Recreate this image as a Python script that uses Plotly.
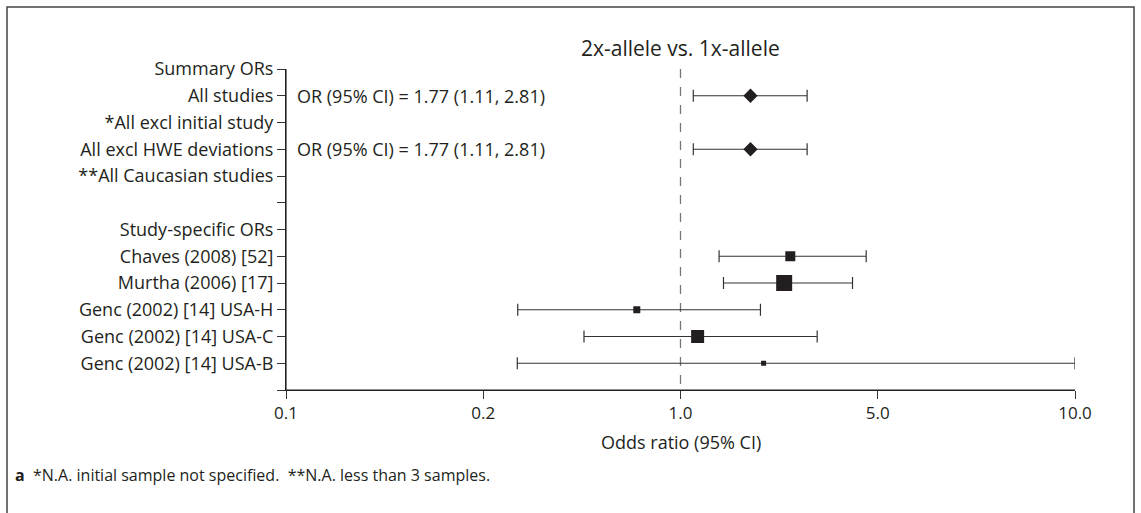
import numpy as np
import plotly.graph_objects as go

# ---- data ----
row_labels = ["Summary ORs", "All studies", "*All excl initial study", "All excl HWE deviations",
              "**All Caucasian studies", "", "Study-specific ORs", "Chaves (2008) [52]",
              "Murtha (2006) [17]", "Genc (2002) [14] USA-H", "Genc (2002) [14] USA-C",
              "Genc (2002) [14] USA-B", ""]

summary_rows = [1, 3]
summary_or = [1.77, 1.77]
summary_lo = [1.11, 1.11]
summary_hi = [2.81, 2.81]

study_rows = [7, 8, 9, 10, 11]
study_or = [2.45, 2.33, 0.70, 1.15, 1.97]
study_lo = [1.37, 1.42, 0.265, 0.455, 0.264]
study_hi = [4.55, 4.07, 1.92, 3.05, 10.0]
study_weight = [10, 16, 7, 13, 5]   # marker size (study weight)

tick_values = [0.1, 0.2, 1.0, 5.0, 10.0]
tick_text = ["0.1", "0.2", "1.0", "5.0", "10.0"]

title_text = "2x-allele vs. 1x-allele"
xlabel = "Odds ratio (95% CI)"
footnote = "<b>a</b>  *N.A. initial sample not specified.  **N.A. less than 3 samples."

# ---- axis scale: piecewise log scale with evenly spaced ticks ----
tick_pos = np.arange(len(tick_values))
def tx(v):
    return np.interp(np.log10(np.asarray(v, dtype=float)), np.log10(tick_values), tick_pos)

FONT = "Open Sans"
TXT = "#231f20"
W, H = 1141, 513
ml, mr, mt, mb = 286, 66, 69, 123
pw, ph = W - ml - mr, H - mt - mb

def px_x(p):
    return (p - ml) / pw
def px_y(p):
    return 1 - (p - mt) / ph

fig = go.Figure()

line_col = "#333333"

s_x = tx(summary_or)
fig.add_trace(go.Scatter(
    x=s_x, y=summary_rows, mode="markers",
    marker=dict(symbol="diamond", size=11, color=TXT, opacity=1, line=dict(width=0)),
    error_x=dict(type="data", symmetric=False,
                 array=tx(summary_hi) - s_x, arrayminus=s_x - tx(summary_lo),
                 color=line_col, thickness=1.2, width=6),
    showlegend=False, hoverinfo="skip"))

st_x = tx(study_or)
fig.add_trace(go.Scatter(
    x=st_x, y=study_rows, mode="markers",
    marker=dict(symbol="square", size=study_weight, color=TXT, opacity=1, line=dict(width=0)),
    error_x=dict(type="data", symmetric=False,
                 array=tx(study_hi) - st_x, arrayminus=st_x - tx(study_lo),
                 color=line_col, thickness=1.2, width=6),
    showlegend=False, hoverinfo="skip"))

# reference line at OR = 1
fig.add_shape(type="line", x0=float(tx(1.0)), x1=float(tx(1.0)), y0=0, y1=len(row_labels) - 1,
              xref="x", yref="y", line=dict(color="#777777", width=1.3, dash="dash"), layer="below")

# axis lines (backup, drawn along the plot-area edges)
fig.add_shape(type="line", xref="paper", yref="paper", x0=0, x1=0, y0=0, y1=1,
              line=dict(color="#222", width=1.2))
fig.add_shape(type="line", xref="paper", yref="paper", x0=0, x1=1, y0=0, y1=0,
              line=dict(color="#222", width=1.2))

# OR text annotations
for r, o, lo, hi in zip(summary_rows, summary_or, summary_lo, summary_hi):
    fig.add_annotation(x=0, xref="paper", y=r, yref="y", xanchor="left", yanchor="middle",
                       xshift=9, showarrow=False,
                       text=f"OR (95% CI) = {o:.2f} ({lo:.2f}, {hi:.2f})",
                       font=dict(family=FONT, size=18, color=TXT))

fig.add_annotation(x=float(tx(1.0)), xref="x", y=px_y(48), yref="paper", showarrow=False,
                   yanchor="middle", text=title_text, font=dict(family=FONT, size=21, color=TXT))
fig.add_annotation(x=float(tx(1.0)), xref="x", y=px_y(442), yref="paper", showarrow=False,
                   yanchor="middle", text=xlabel, font=dict(family=FONT, size=18, color=TXT))
fig.add_annotation(x=px_x(13), xref="paper", y=px_y(475), yref="paper", showarrow=False,
                   xanchor="left", yanchor="middle", text=footnote,
                   font=dict(family=FONT, size=16, color=TXT))

# outer frame
fig.add_shape(type="rect", xref="paper", yref="paper",
              x0=px_x(7), x1=px_x(1134), y0=px_y(540), y1=px_y(7),
              line=dict(color="#444", width=1.5), layer="below")

fig.update_xaxes(range=[0, len(tick_values) - 1], tickvals=list(tick_pos), ticktext=tick_text,
                 showline=True, linecolor="#222", linewidth=1, ticks="outside", ticklen=8,
                 tickcolor="#333", showgrid=False, zeroline=False,
                 tickfont=dict(family=FONT, size=17, color=TXT))
fig.update_yaxes(range=[len(row_labels) - 1, 0], tickvals=list(range(len(row_labels))),
                 ticktext=row_labels, showline=True, linecolor="#222", linewidth=1,
                 ticks="outside", ticklen=8, tickcolor="#333", showgrid=False, zeroline=False,
                 tickfont=dict(family=FONT, size=18, color=TXT))

fig.update_layout(width=W, height=H, autosize=False,
                  margin=dict(l=ml, r=mr, t=mt, b=mb, pad=0),
                  plot_bgcolor="white", paper_bgcolor="white",
                  font=dict(family=FONT, color=TXT))

fig.write_html("out.html", config={"displayModeBar": False},
               post_script="document.body.style.margin='0';")
